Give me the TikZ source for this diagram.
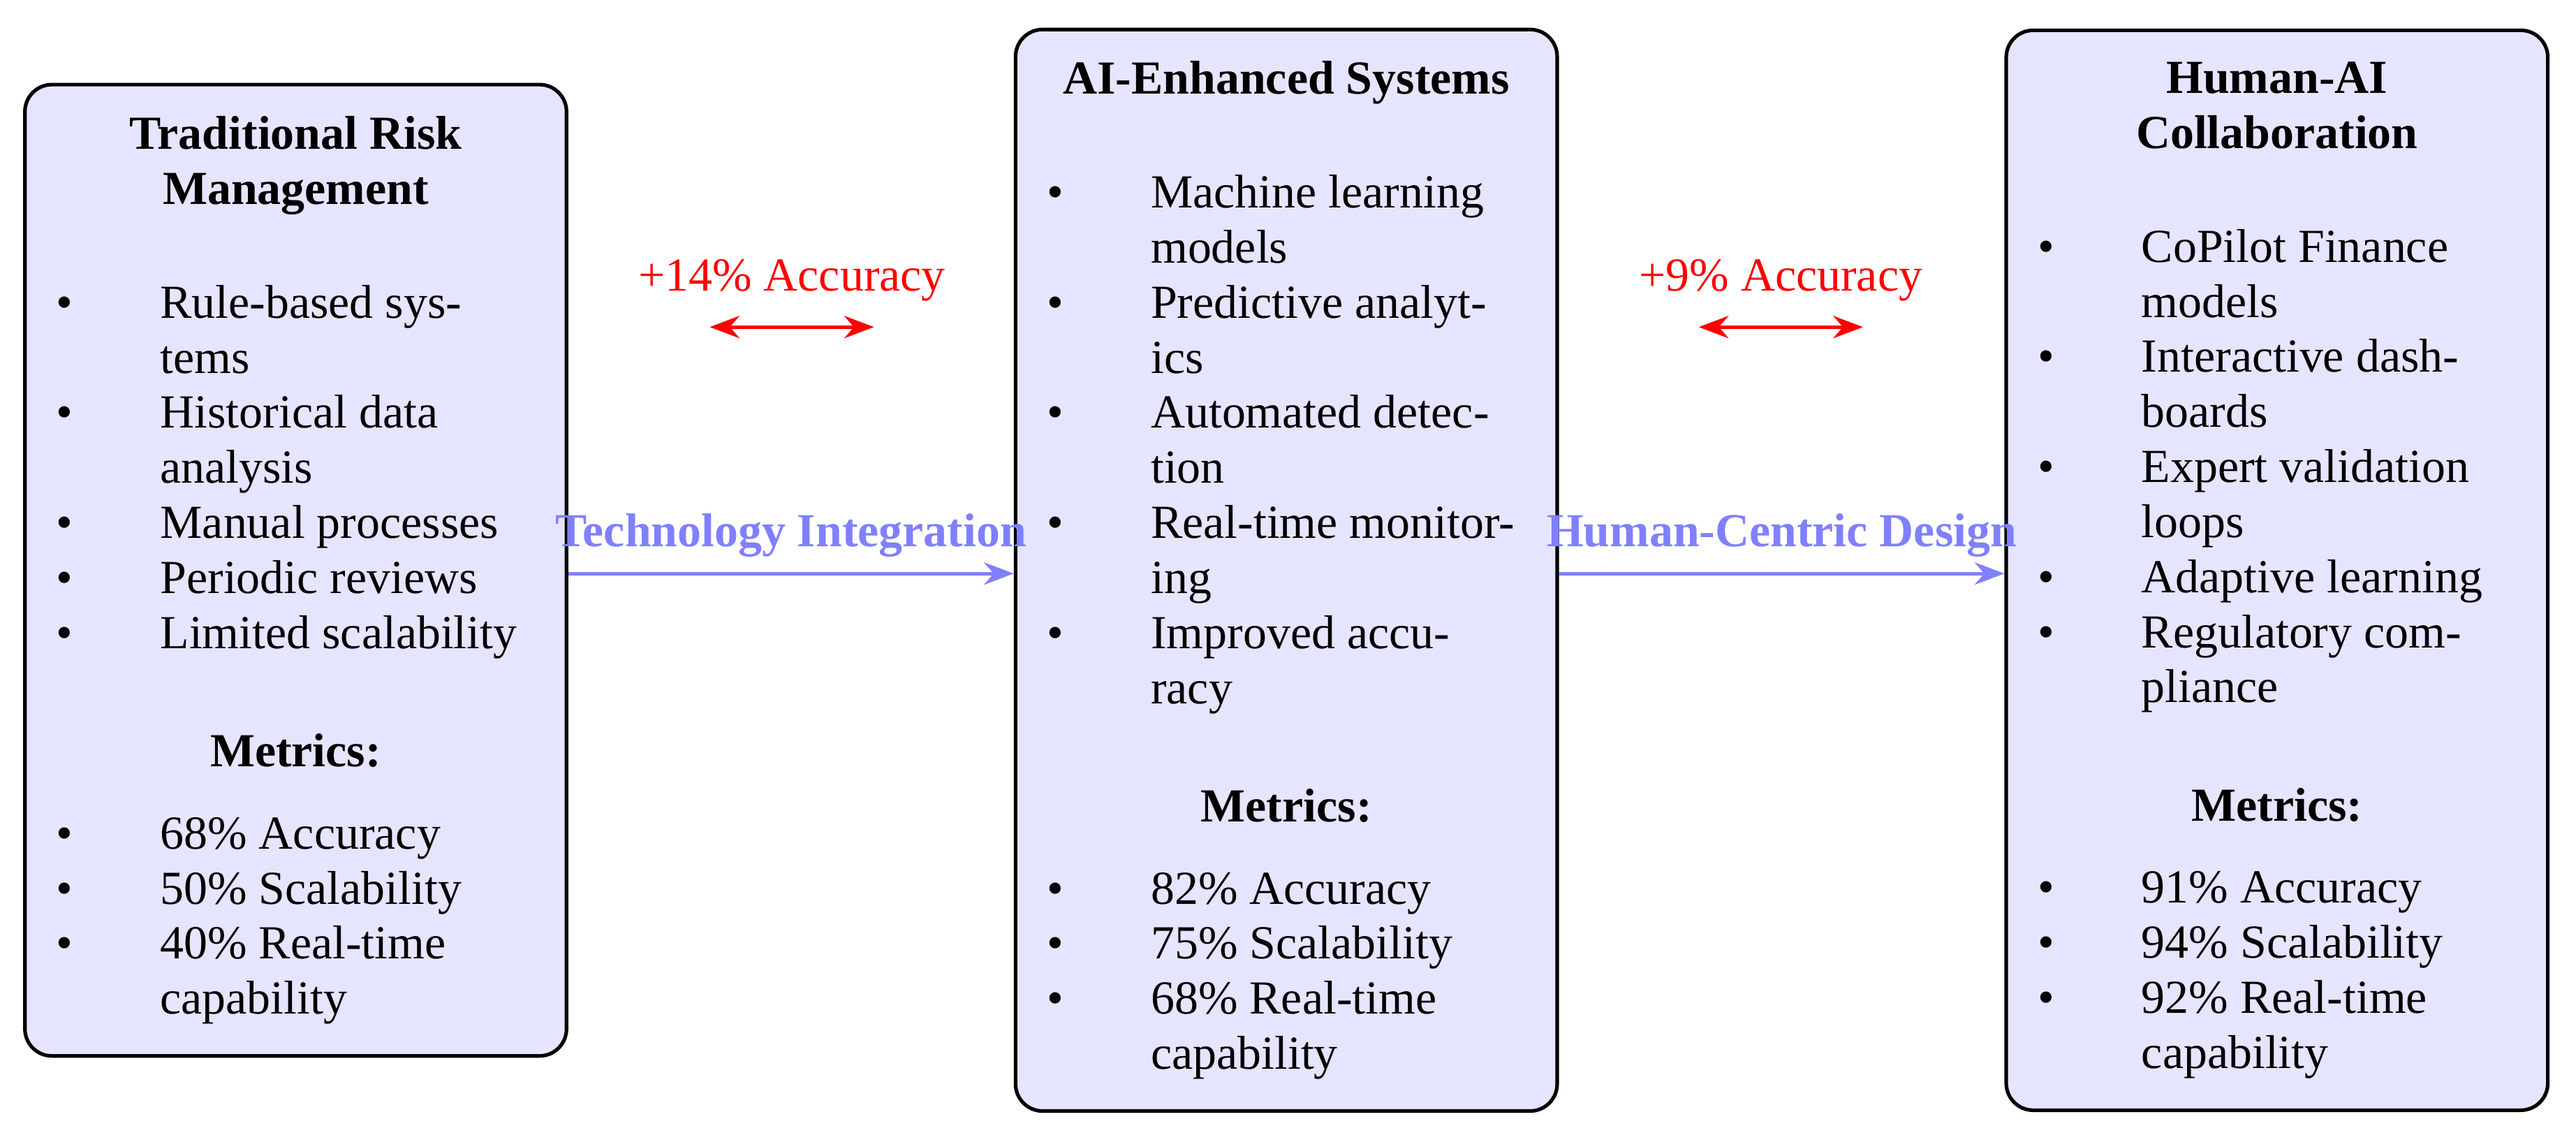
\documentclass[tikz,border=0pt]{standalone}
\usepackage{fontspec}
\setmainfont{Liberation Serif}
\usetikzlibrary{arrows.meta}
\newenvironment{blist}{\list{\textbullet}{\leftmargin=23pt\labelwidth=6pt\labelsep=17pt\itemsep=0pt\parsep=0pt\topsep=0pt\partopsep=0pt\itemindent=0pt\def\makelabel##1{##1\hfil}}\raggedright}{\endlist}
\tikzset{
 box/.style={draw=black,thick,rounded corners=6pt,fill=blue!10,minimum width=120pt,text width=106pt,inner sep=7pt,align=justify,font=\fontsize{10.5pt}{12.2pt}\selectfont},
 flow/.style={-{Stealth},draw=blue!50,thick},
 flowlab/.style={text=blue!50,font=\fontsize{10.5pt}{12pt}\selectfont\bfseries},
 gain/.style={{Stealth}-{Stealth},draw=red,thick},
 gainlab/.style={text=red,font=\fontsize{10.5pt}{12pt}\selectfont}
}
\begin{document}
\begin{tikzpicture}[x=0.364pt,y=-0.364pt]
\useasboundingbox (0,0) rectangle (1568,685);
\node[box,minimum height=209pt] (t) at (180,347) {%
{\centering\bfseries Traditional Risk\\ Management\par}\vspace{13pt}
\begin{blist}
\item Rule-based sys-\\tems
\item Historical data\\ analysis
\item Manual processes
\item Periodic reviews
\item Limited scalability
\end{blist}\vspace{14pt}
{\centering\bfseries Metrics:\par}\vspace{6pt}
\begin{blist}
\item 68\% Accuracy
\item 50\% Scalability
\item 40\% Real-time\\ capability
\end{blist}};
\node[box,minimum height=233pt] (a) at (783,347) {%
{\centering\bfseries AI-Enhanced Systems\par}\vspace{13pt}
\begin{blist}
\item Machine learning\\ models
\item Predictive analyt-\\ics
\item Automated detec-\\tion
\item Real-time monitor-\\ing
\item Improved accu-\\racy
\end{blist}\vspace{14pt}
{\centering\bfseries Metrics:\par}\vspace{6pt}
\begin{blist}
\item 82\% Accuracy
\item 75\% Scalability
\item 68\% Real-time\\ capability
\end{blist}};
\node[box,minimum height=233pt] (h) at (1386,347) {%
{\centering\bfseries Human-AI\\ Collaboration\par}\vspace{13pt}
\begin{blist}
\item CoPilot Finance\\ models
\item Interactive dash-\\boards
\item Expert validation\\ loops
\item Adaptive learning
\item Regulatory com-\\pliance
\end{blist}\vspace{14pt}
{\centering\bfseries Metrics:\par}\vspace{6pt}
\begin{blist}
\item 91\% Accuracy
\item 94\% Scalability
\item 92\% Real-time\\ capability
\end{blist}};
\draw[flow] (t.east |- 0,349) -- node[flowlab,above] {Technology Integration} (a.west |- 0,349);
\draw[flow] (a.east |- 0,349) -- node[flowlab,above] {Human-Centric Design} (h.west |- 0,349);
\coordinate (g1a) at (432,199); \coordinate (g1b) at (532,199);
\coordinate (g2a) at (1034,199); \coordinate (g2b) at (1134,199);
\draw[gain] (g1a) -- node[gainlab,above=2pt] {+14\% Accuracy} (g1b);
\draw[gain] (g2a) -- node[gainlab,above=2pt] {+9\% Accuracy} (g2b);
\end{tikzpicture}
\end{document}
